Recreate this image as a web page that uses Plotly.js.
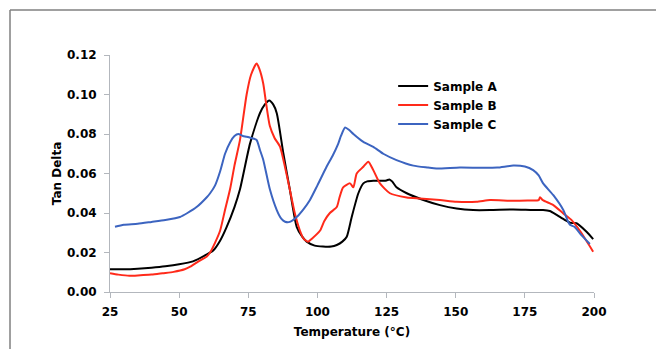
<!DOCTYPE html>
<html>
<head>
<meta charset="utf-8">
<script src="https://cdn.plot.ly/plotly-3.0.1.min.js"></script>
<style>html,body{margin:0;padding:0;background:#fff;}#chart{width:656px;height:349px;}</style>
</head>
<body>
<div id="chart"></div>
<script>
// Sample A (black)
const tempA = [25, 30, 35, 40, 45, 50, 55, 60, 62.3, 64.8, 67.2, 70, 72, 75.6, 79.2, 81, 82.6, 84, 85.3, 87.7, 90, 92.5, 94.5, 96.1, 99, 102, 105, 107, 109, 110.6, 112.4, 114.8, 116.6, 118, 120.2, 123.8, 125, 126, 127, 128.6, 132.3, 138.3, 144.3, 150.3, 156.3, 162.4, 170.8, 178, 181.6, 184, 186.5, 189.5, 191.5, 193.7, 197.3, 199.7];
const tanA = [0.0115, 0.0115, 0.0118, 0.0123, 0.013, 0.014, 0.0155, 0.019, 0.021, 0.026, 0.033, 0.043, 0.052, 0.075, 0.0905, 0.095, 0.097, 0.095, 0.0905, 0.070, 0.052, 0.033, 0.028, 0.0255, 0.0235, 0.023, 0.023, 0.0238, 0.0255, 0.028, 0.038, 0.050, 0.055, 0.056, 0.0563, 0.0563, 0.0565, 0.057, 0.056, 0.053, 0.050, 0.0466, 0.044, 0.0423, 0.0415, 0.0415, 0.0418, 0.0415, 0.0415, 0.041, 0.039, 0.0364, 0.035, 0.0348, 0.0305, 0.0268];

// Sample B (red)
const tempB = [25, 28, 32, 36, 40, 44, 48, 52, 54, 57, 60, 61.2, 63, 64.8, 66.5, 68.4, 70, 72, 74.4, 76, 78, 79, 80.4, 81.5, 82.8, 84.5, 86.5, 88, 90, 91.8, 93.7, 95, 96.6, 98, 100.9, 102.5, 104.5, 107, 108, 109.3, 111.8, 113, 114.2, 116.6, 118.4, 120.2, 122.6, 126.2, 132.3, 137, 144.3, 150.3, 157.5, 162.4, 170, 176, 180, 180.5, 181.5, 185.3, 188.9, 191.9, 194.9, 199.7];
const tanB = [0.0095, 0.0088, 0.0082, 0.0085, 0.0088, 0.0095, 0.0102, 0.0115, 0.0128, 0.0155, 0.018, 0.020, 0.025, 0.031, 0.041, 0.052, 0.064, 0.077, 0.100, 0.110, 0.1157, 0.113, 0.1056, 0.095, 0.084, 0.078, 0.0735, 0.065, 0.052, 0.040, 0.031, 0.027, 0.0255, 0.027, 0.031, 0.036, 0.040, 0.043, 0.048, 0.053, 0.055, 0.053, 0.060, 0.0634, 0.066, 0.0617, 0.055, 0.050, 0.0479, 0.0474, 0.0466, 0.0457, 0.0457, 0.0466, 0.0462, 0.0463, 0.0465, 0.048, 0.0465, 0.044, 0.0398, 0.0364, 0.031, 0.0204];

// Sample C (blue)
const tempC = [26.8, 30, 35, 40, 45, 50.3, 53, 56.3, 60, 61.2, 63, 64.8, 66.6, 68.5, 70, 71.4, 73, 74.4, 76, 78, 79.2, 80.4, 82.8, 85.3, 87, 88.3, 90, 92.5, 95, 97.3, 100, 103.3, 105.5, 107.5, 108.5, 110, 111.5, 113, 116.6, 120.2, 123.8, 128.6, 134.7, 140, 143, 151.5, 158.8, 165, 170.8, 175, 178, 180, 181.6, 185.3, 188.9, 190.5, 191.3, 193, 194.9, 198.5];
const tanC = [0.033, 0.034, 0.0345, 0.0355, 0.0365, 0.038, 0.040, 0.043, 0.048, 0.050, 0.054, 0.061, 0.070, 0.076, 0.079, 0.080, 0.079, 0.0786, 0.078, 0.077, 0.072, 0.067, 0.052, 0.0415, 0.037, 0.0356, 0.0355, 0.038, 0.042, 0.0466, 0.054, 0.0634, 0.069, 0.075, 0.079, 0.0833, 0.082, 0.080, 0.076, 0.0735, 0.070, 0.0668, 0.064, 0.063, 0.0625, 0.063, 0.0629, 0.063, 0.064, 0.0635, 0.0617, 0.059, 0.055, 0.049, 0.0415, 0.036, 0.034, 0.033, 0.0297, 0.0243];

const seriesNames = ['Sample A', 'Sample B', 'Sample C'];
const xTicks = [25, 50, 75, 100, 125, 150, 175, 200];
const yTicks = [0, 0.02, 0.04, 0.06, 0.08, 0.10, 0.12];
const yTickText = ['0.00', '0.02', '0.04', '0.06', '0.08', '0.10', '0.12'];

const FONT = 'DejaVu Sans, Verdana, sans-serif';
const colors = ['#000000', '#ff2a1a', '#3c64c0'];
const xs = [tempA, tempB, tempC];
const ys = [tanA, tanB, tanC];

const data = seriesNames.map((n, i) => ({
  x: xs[i], y: ys[i], name: n, type: 'scatter', mode: 'lines',
  line: {color: colors[i], width: 2, shape: 'spline', smoothing: 0.6}
}));

const axisColor = '#b3b7bd';
const layout = {
  width: 656, height: 349,
  margin: {l: 110, r: 62, t: 55, b: 57},
  paper_bgcolor: '#ffffff', plot_bgcolor: '#ffffff',
  font: {family: FONT, size: 12, color: '#000'},
  showlegend: true,
  legend: {x: 0.585, y: 0.93, xanchor: 'left', yanchor: 'top', bgcolor: 'rgba(0,0,0,0)',
           font: {family: FONT, size: 12, color: '#000', weight: 'bold'}, tracegroupgap: 0, itemwidth: 30},
  xaxis: {range: [25, 200], tickvals: xTicks, ticktext: xTicks.map(String), showgrid: false, zeroline: false,
          showline: true, linecolor: axisColor, linewidth: 1, ticks: 'outside', ticklen: 5, tickcolor: axisColor,
          tickfont: {family: FONT, size: 12, weight: 'bold'}, ticklabelstandoff: 4,
          title: {text: 'Temperature (°C)', font: {family: FONT, size: 12, weight: 'bold'}, standoff: 9}},
  yaxis: {range: [0, 0.12], tickvals: yTicks, ticktext: yTickText, showgrid: false, zeroline: false,
          showline: true, linecolor: axisColor, linewidth: 1, ticks: 'outside', ticklen: 5, tickcolor: axisColor,
          tickfont: {family: FONT, size: 12, weight: 'bold'}, ticklabelstandoff: 5,
          title: {text: 'Tan Delta', font: {family: FONT, size: 12, weight: 'bold'}, standoff: 2}},
  shapes: [
    {type: 'line', xref: 'paper', yref: 'paper', x0: -0.2066, x1: -0.2066, y0: -0.3, y1: 1.19, line: {color: '#808080', width: 1.5}},
    {type: 'line', xref: 'paper', yref: 'paper', x0: -0.2066, x1: 1.2, y0: 1.19, y1: 1.19, line: {color: '#808080', width: 1.5}}
  ]
};

Plotly.newPlot('chart', data, layout, {staticPlot: true, displayModeBar: false});
</script>
</body>
</html>
